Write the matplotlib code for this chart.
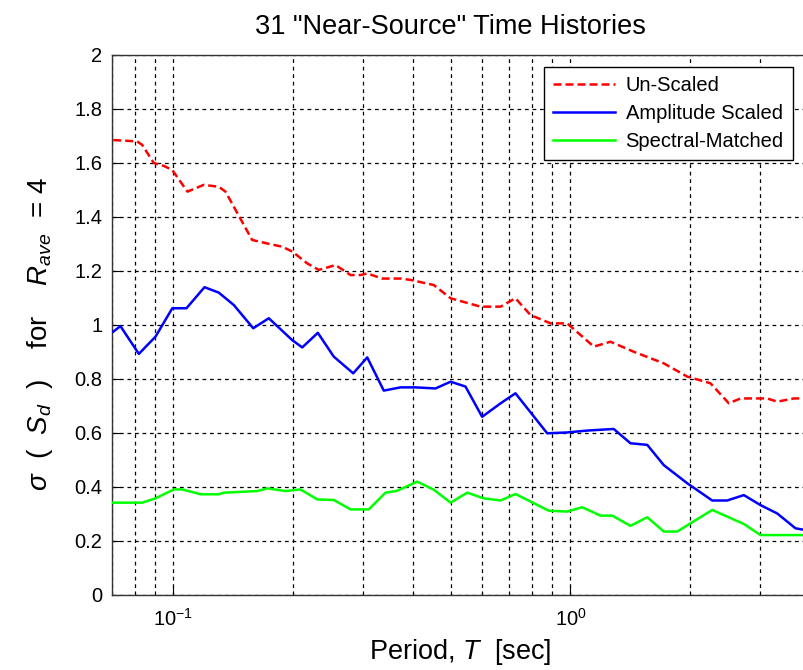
import matplotlib
matplotlib.use("Agg")
import matplotlib.pyplot as plt
from matplotlib.ticker import LogLocator, FixedLocator, FixedFormatter, NullFormatter

plt.rcParams['font.family'] = ['Liberation Sans', 'DejaVu Sans']
plt.rcParams['mathtext.fontset'] = 'custom'
plt.rcParams['mathtext.rm'] = 'Liberation Sans'
plt.rcParams['mathtext.it'] = 'Liberation Sans:italic'
plt.rcParams['mathtext.sf'] = 'Liberation Sans'

title = '31 "Near-Source" Time Histories'
xlabel = r'Period, $T$  [sec]'
ylabel = r'$\sigma$  (  $S_d$  )    for    $R_{ave}$  = 4'
series_names = ['Un-Scaled', 'Amplitude Scaled', 'Spectral-Matched']

unscaled_T = [0.0705, 0.0810, 0.0834, 0.0892, 0.0946, 0.0993, 0.1084, 0.1192, 0.1300, 0.1352,
              0.1578, 0.1722, 0.1879, 0.1991, 0.2173, 0.2323, 0.2559, 0.2793, 0.2958, 0.3076,
              0.3357, 0.3732, 0.3954, 0.4525, 0.4989, 0.5934, 0.6668, 0.7267, 0.7929, 0.8912,
              0.981, 1.145, 1.261, 1.443, 1.718, 1.968, 2.253, 2.505, 2.681, 3.130, 3.317,
              3.652, 4.0]
unscaled_sd = [1.685, 1.680, 1.667, 1.600, 1.589, 1.574, 1.494, 1.519, 1.512, 1.494,
               1.315, 1.302, 1.290, 1.272, 1.228, 1.204, 1.222, 1.185, 1.185, 1.191,
               1.172, 1.172, 1.167, 1.148, 1.099, 1.068, 1.068, 1.099, 1.037, 1.006,
               1.006, 0.920, 0.938, 0.901, 0.858, 0.809, 0.784, 0.710, 0.728, 0.728, 0.716,
               0.728, 0.728]

amp_T = [0.0705, 0.0735, 0.0818, 0.0901, 0.0993, 0.1078, 0.1197, 0.1300, 0.1419, 0.1588,
         0.1738, 0.1991, 0.2110, 0.2310, 0.2533, 0.2836, 0.3076, 0.3386, 0.3732, 0.4071,
         0.4571, 0.4989, 0.5439, 0.5990, 0.6668, 0.7267, 0.8736, 0.981, 1.102, 1.285,
         1.416, 1.561, 1.718, 1.968, 2.275, 2.481, 2.733, 3.010, 3.317, 3.688, 4.0]
amp_sd = [0.975, 0.996, 0.893, 0.957, 1.062, 1.062, 1.140, 1.120, 1.074, 0.988,
          1.025, 0.944, 0.917, 0.971, 0.883, 0.821, 0.880, 0.757, 0.769, 0.769,
          0.765, 0.790, 0.772, 0.660, 0.710, 0.747, 0.599, 0.602, 0.609, 0.615,
          0.562, 0.556, 0.481, 0.414, 0.350, 0.350, 0.370, 0.333, 0.302, 0.247, 0.238]

spec_T = [0.0705, 0.0834, 0.0901, 0.1002, 0.1052, 0.1171, 0.1300, 0.1339, 0.1625, 0.1722,
          0.1915, 0.2089, 0.2302, 0.2533, 0.2793, 0.3104, 0.3420, 0.3660, 0.4110, 0.4525,
          0.4989, 0.5495, 0.6050, 0.6668, 0.7267, 0.8818, 0.981, 1.070, 1.190, 1.274,
          1.416, 1.561, 1.718, 1.857, 2.275, 2.733, 3.010, 4.0]
spec_sd = [0.342, 0.342, 0.358, 0.391, 0.391, 0.373, 0.373, 0.379, 0.385, 0.395,
           0.385, 0.391, 0.354, 0.352, 0.317, 0.317, 0.379, 0.386, 0.420, 0.390,
           0.342, 0.379, 0.358, 0.350, 0.374, 0.312, 0.309, 0.325, 0.294, 0.294,
           0.256, 0.288, 0.235, 0.235, 0.315, 0.263, 0.222, 0.222]

xlim = (0.07, 4.0)
ylim = (0.0, 2.0)
yticks = [0, 0.2, 0.4, 0.6, 0.8, 1, 1.2, 1.4, 1.6, 1.8, 2]
ytick_labels = ['0', '0.2', '0.4', '0.6', '0.8', '1', '1.2', '1.4', '1.6', '1.8', '2']

fig = plt.figure(figsize=(8.04, 6.7), dpi=100)
ax = fig.add_axes([112/804, 1 - 595/670, 697.5/804, 540/670])
ax.set_xscale('log')
ax.set_xlim(*xlim)
ax.set_ylim(*ylim)

ax.plot(unscaled_T, unscaled_sd, color='#ff0000', linestyle=(0, (3.2, 1.6)), linewidth=1.8,
        label=series_names[0], zorder=3)
ax.plot(amp_T, amp_sd, color='#0000ff', linewidth=1.8, label=series_names[1], zorder=3)
ax.plot(spec_T, spec_sd, color='#00ff00', linewidth=1.8, label=series_names[2], zorder=3)

ax.xaxis.set_major_locator(FixedLocator([0.1, 1.0]))
ax.xaxis.set_major_formatter(FixedFormatter([r'$10^{-1}$', r'$10^{0}$']))
ax.xaxis.set_minor_locator(LogLocator(base=10, subs=range(2, 10)))
ax.xaxis.set_minor_formatter(NullFormatter())
ax.set_yticks(yticks)
ax.set_yticklabels(ytick_labels)

ax.grid(True, which='major', axis='both', color='black', linestyle=(0, (3, 3)), linewidth=0.9)
ax.grid(True, which='minor', axis='x', color='black', linestyle=(0, (3, 3)), linewidth=0.9)
ax.tick_params(which='both', direction='in', labelsize=14.5, colors='black')
ax.tick_params(which='major', length=6)
ax.tick_params(which='minor', length=3)
ax.tick_params(axis='x', pad=9)
ax.tick_params(axis='y', pad=7)
for s in ax.spines.values():
    s.set_linewidth(1.0)
    s.set_color('#333333')

fig.text(450/804, 1 - 27/670, title, ha='center', va='center', fontsize=19.5)
fig.text(460/804, 1 - 652/670, xlabel, ha='center', va='center', fontsize=19.5)
fig.text(40/804, 1 - 334/670, ylabel, ha='center', va='center', rotation=90, fontsize=20)

leg = ax.legend(loc='upper right', bbox_to_anchor=(792.7/804, 1 - 66.7/670),
                bbox_transform=fig.transFigure, borderaxespad=0, fontsize=14.5,
                fancybox=False, edgecolor='black', framealpha=1, handlelength=3.1,
                handletextpad=0.5, labelspacing=0.45, borderpad=0.45)
leg.get_frame().set_linewidth(1.0)

fig.savefig('out.png', dpi=100)
